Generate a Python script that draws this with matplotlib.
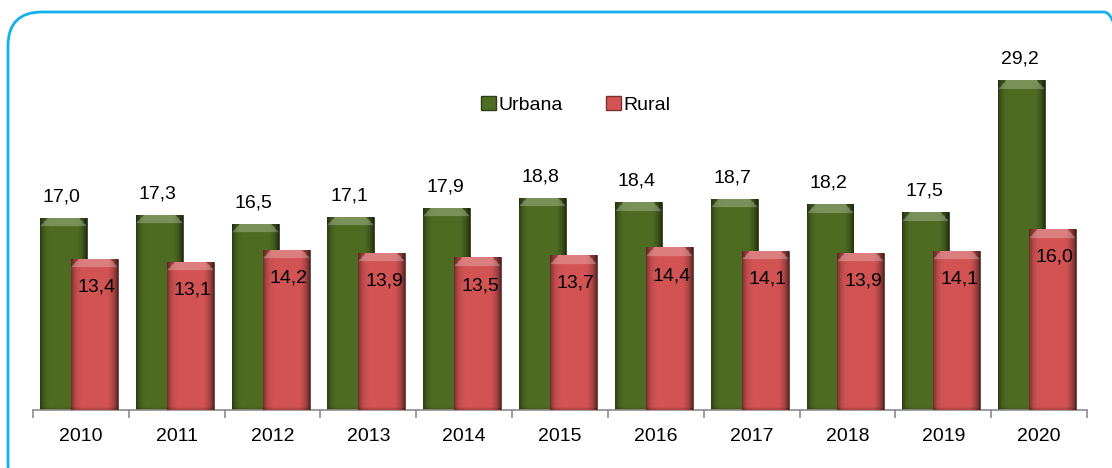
import numpy as np
import matplotlib.pyplot as plt
from matplotlib.colors import to_rgb
from matplotlib.patches import FancyBboxPatch, Patch
from matplotlib.transforms import IdentityTransform

plt.rcParams['font.family'] = ['Liberation Sans', 'DejaVu Sans']

# --------------------------------------------------------------------------- #
#  Data                                                                        #
# --------------------------------------------------------------------------- #
years   = ["2010", "2011", "2012", "2013", "2014", "2015",
           "2016", "2017", "2018", "2019", "2020"]
urbana  = [17.0, 17.3, 16.5, 17.1, 17.9, 18.8, 18.4, 18.7, 18.2, 17.5, 29.2]
rural   = [13.4, 13.1, 14.2, 13.9, 13.5, 13.7, 14.4, 14.1, 13.9, 14.1, 16.0]

GREEN = "#4f6d22"
RED   = "#d35454"
W     = 0.49


def shade_bar(ax, rect, base):
    """Overlay a pseudo-3D gradient (dark sides, bevelled top) on a bar."""
    x0, w, h = rect.get_x(), rect.get_width(), rect.get_height()
    nx, ny = 60, max(int(h * 10), 20)
    rgb = np.array(to_rgb(base))
    xs = np.linspace(-1, 1, nx)
    side = 1.0 - 0.45 * np.abs(xs) ** 6          # dark edges
    side = side - 0.12 * (xs > 0.6) * (xs - 0.6) / 0.4
    img = np.ones((ny, nx, 3)) * rgb
    img *= side[None, :, None]
    # bevel at the top (~0.8 data units); row 0 is the top of the bar
    bev = 0.8
    for j in range(ny):
        d = (j + 0.5) / ny * h
        if d < bev:
            inset = (bev - d) / bev
            mask = np.abs(xs) < (1 - 0.35 * inset)
            img[j, mask] = img[j, mask] * 0.75 + 0.25
            img[j, ~mask] *= 0.8
    img[-2:] *= 0.85
    img = np.clip(img, 0, 1)
    im = ax.imshow(img, extent=(x0, x0 + w, 0, h), aspect="auto", origin="upper",
                   zorder=rect.get_zorder() + 0.1, interpolation="bilinear")
    im.set_clip_path(rect)


# --------------------------------------------------------------------------- #
#  Figure                                                                      #
# --------------------------------------------------------------------------- #
fig = plt.figure(figsize=(11.12, 4.68), dpi=100)
ax = fig.add_axes([33 / 1112, 58 / 468, 1054 / 1112, 350 / 468])

x = np.arange(len(years))
bars_u = ax.bar(x - 0.182, urbana, W, color=GREEN, edgecolor="#3a3a3a",
                linewidth=0.6, zorder=2)
bars_r = ax.bar(x + 0.141, rural, W, color=RED, edgecolor="#5a3a3a",
                linewidth=0.6, zorder=3)
for b in bars_u:
    shade_bar(ax, b, GREEN)
for b in bars_r:
    shade_bar(ax, b, RED)

for xi, v in zip(x, urbana):
    ax.text(xi - 0.20, v + 1.85, f"{v:.1f}".replace(".", ","),
            ha="center", va="center", fontsize=14, zorder=5)
for xi, v in zip(x, rural):
    ax.text(xi + 0.165, v - 2.5, f"{v:.1f}".replace(".", ","),
            ha="center", va="center", fontsize=14, zorder=5)

ax.set_xlim(-0.5, len(years) - 0.5)
ax.set_ylim(0, 350 / 11.3)
ax.set_yticks([])
for s in ("left", "right", "top"):
    ax.spines[s].set_visible(False)
ax.spines["bottom"].set_color("#8c8c8c")
ax.spines["bottom"].set_linewidth(1.2)

ax.set_xticks(np.arange(len(years) + 1) - 0.5)
ax.set_xticklabels([])
ax.tick_params(axis="x", which="major", length=6, width=1.2, color="#8c8c8c")
ax.set_xticks(x, minor=True)
ax.set_xticklabels(years, minor=True, fontsize=14)
ax.tick_params(axis="x", which="minor", length=0, pad=13)

handles = [Patch(facecolor=GREEN, edgecolor="#2e3e14"),
           Patch(facecolor=RED, edgecolor="#7a3030")]
fig.legend(handles, ["Urbana", "Rural"], loc="center",
           bbox_to_anchor=(576 / 1112, 1 - 105 / 468), ncol=2, frameon=False,
           fontsize=14, handlelength=0.75, handleheight=0.75,
           handletextpad=0.15, columnspacing=2.2)

# rounded frame around the chart (pixel coordinates, runs off right/bottom)
frame = FancyBboxPatch((8, -30), 1130, 468 - 12 + 30,
                       boxstyle="round,pad=0,rounding_size=34",
                       transform=IdentityTransform(), fill=False,
                       edgecolor="#13b0ee", linewidth=2)
fig.patches.append(frame)

fig.savefig("out.png", dpi=100)
